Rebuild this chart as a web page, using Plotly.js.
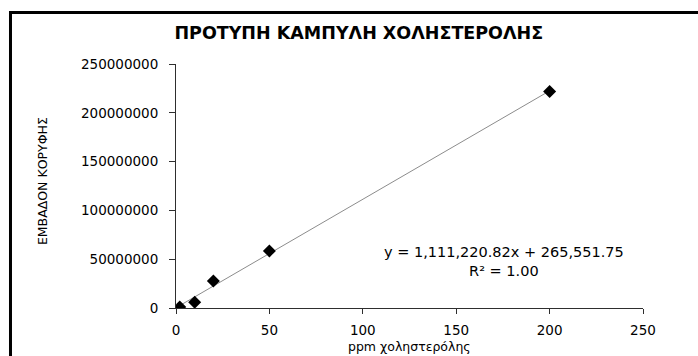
<!DOCTYPE html>
<html>
<head>
<meta charset="utf-8">
<script src="https://cdn.plot.ly/plotly-3.0.1.min.js"></script>
<style>
  html, body { margin: 0; padding: 0; background: #fff; }
  #chart { width: 698px; height: 356px; }
</style>
</head>
<body>
<div id="chart"></div>
<script>
// Calibration standards: cholesterol concentration (ppm) and measured peak area
const ppm = [2, 10, 20, 50, 200];
const peakArea = [1.0e6, 5.9e6, 27.7e6, 58.5e6, 221.8e6];

// Linear trendline coefficients as printed on the chart
const slope = 1111220.82;
const intercept = 265551.75;
const rSquared = 1.00;

const xTicks = [0, 50, 100, 150, 200, 250];
const yTicks = [0, 50000000, 100000000, 150000000, 200000000, 250000000];

const fmt = v => v.toLocaleString('en-US', {minimumFractionDigits: 2, maximumFractionDigits: 2});

const xMin = Math.min(...ppm), xMax = Math.max(...ppm);
const trendX = [xMin, xMax];
const trendY = trendX.map(x => slope * x + intercept);

const axisColor = '#2e2e2e';
const tickFont = {family: 'DejaVu Sans', size: 13.5, color: '#000'};

const traces = [
  {
    x: trendX, y: trendY, type: 'scatter', mode: 'lines',
    line: {color: '#8c8c8c', width: 1}, hoverinfo: 'skip', showlegend: false
  },
  {
    x: ppm, y: peakArea, type: 'scatter', mode: 'markers',
    marker: {symbol: 'diamond', size: 10, color: '#000'}, showlegend: false
  }
];

const layout = {
  width: 698, height: 356,
  margin: {l: 176, r: 55, t: 64, b: 48.3},
  paper_bgcolor: '#fff', plot_bgcolor: '#fff',
  title: {
    text: 'ΠΡΟΤΥΠΗ ΚΑΜΠΥΛΗ ΧΟΛΗΣΤΕΡΟΛΗΣ',
    font: {family: 'DejaVu Sans', size: 17.5, color: '#000', weight: 'bold'},
    xref: 'container', yref: 'container',
    x: 0.514, xanchor: 'center', y: 0.907, yanchor: 'middle'
  },
  xaxis: {
    range: [0, 250], tickvals: xTicks, ticktext: xTicks.map(String),
    showgrid: false, zeroline: false,
    showline: true, linecolor: axisColor, linewidth: 1,
    ticks: 'outside', ticklen: 5, tickcolor: axisColor, tickwidth: 1,
    ticklabelstandoff: 5,
    tickfont: tickFont
  },
  yaxis: {
    range: [0, 250000000], tickvals: yTicks, ticktext: yTicks.map(String),
    showgrid: false, zeroline: false,
    showline: true, linecolor: axisColor, linewidth: 1,
    ticks: 'outside', ticklen: 6, tickcolor: axisColor, tickwidth: 1,
    ticklabelstandoff: 8,
    tickfont: tickFont
  },
  annotations: [
    {
      text: 'y = ' + fmt(slope) + 'x + ' + fmt(intercept) + '<br>R² = ' + rSquared.toFixed(2),
      xref: 'paper', yref: 'paper', x: 0.7013, y: 0.1916,
      xanchor: 'center', yanchor: 'middle', showarrow: false, align: 'center',
      font: {family: 'DejaVu Sans', size: 14.5, color: '#000'}
    },
    {
      text: 'ΕΜΒΑΔΟΝ ΚΟΡΥΦΗΣ', textangle: -90,
      xref: 'paper', yref: 'paper', x: -0.287, y: 0.52,
      xanchor: 'center', yanchor: 'middle', showarrow: false,
      font: {family: 'DejaVu Sans', size: 12.5, color: '#000'}
    },
    {
      text: 'ppm χοληστερόλης',
      xref: 'paper', yref: 'paper', x: 0.5, y: 0.0,
      yshift: -30,
      xanchor: 'center', yanchor: 'top', showarrow: false, borderpad: 0,
      font: {family: 'DejaVu Sans', size: 12.5, color: '#000'}
    }
  ],
  shapes: [
    // chart-area frame (left and top edges; right and bottom run past the page)
    {
      type: 'path', xref: 'paper', yref: 'paper',
      path: 'M -0.3544,-0.25 L -0.3544,1.2113 L 1.8,1.2113',
      line: {color: '#000', width: 3}
    }
  ]
};

Plotly.newPlot('chart', traces, layout, {displayModeBar: false, staticPlot: true});
</script>
</body>
</html>
